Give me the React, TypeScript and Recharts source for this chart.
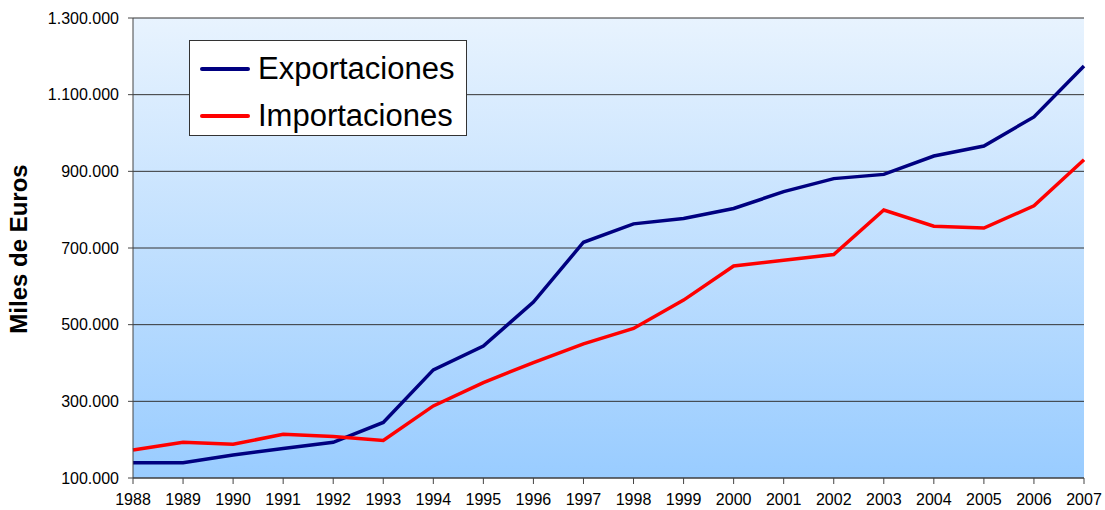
import { CartesianGrid, Label, Legend, Line, LineChart, XAxis, YAxis } from 'recharts'

const years = [
  '1988', '1989', '1990', '1991', '1992', '1993', '1994', '1995', '1996', '1997',
  '1998', '1999', '2000', '2001', '2002', '2003', '2004', '2005', '2006', '2007',
]

const exportaciones = [
  140000, 140000, 160000, 177000, 193000, 245000, 382000, 444000, 559000, 715000,
  763000, 777000, 803000, 847000, 881000, 892000, 940000, 966000, 1042000, 1175000,
]

const importaciones = [
  173000, 193000, 188000, 214000, 208000, 198000, 288000, 349000, 401000, 450000,
  490000, 564000, 653000, 668000, 683000, 799000, 757000, 752000, 810000, 930000,
]

const yTicks = [100000, 300000, 500000, 700000, 900000, 1100000, 1300000]

const series = [
  { key: 'exp', name: 'Exportaciones', color: '#000080' },
  { key: 'imp', name: 'Importaciones', color: '#ff0000' },
]

const data = years.map((year, i) => ({
  year,
  exp: exportaciones[i],
  imp: importaciones[i],
}))

const font = '"Liberation Sans", Arial, Helvetica, sans-serif'

function formatMiles(value: number) {
  return String(value).replace(/\B(?=(\d{3})+(?!\d))/g, '.')
}

function LegendBox() {
  return (
    <div
      style={{
        width: 278,
        height: 96,
        boxSizing: 'border-box',
        background: '#fff',
        border: '1px solid #333',
        padding: '4px 0 0 10px',
        overflow: 'hidden',
        fontFamily: font,
      }}
    >
      {series.map((s) => (
        <div key={s.key} style={{ display: 'flex', alignItems: 'center', height: 47 }}>
          <span style={{ width: 50, height: 4, background: s.color, borderRadius: 2, marginRight: 8 }} />
          <span style={{ fontSize: 31, color: '#000', lineHeight: 1 }}>{s.name}</span>
        </div>
      ))}
    </div>
  )
}

function YLabel(props: any) {
  const vb = props.viewBox || { y: 18, height: 460 }
  const cy = vb.y + vb.height / 2 + 1
  return (
    <text
      x={18}
      y={cy}
      transform={`rotate(-90 18 ${cy})`}
      textAnchor="middle"
      dominantBaseline="central"
      fontFamily={font}
      fontWeight="bold"
      fontSize={24}
      fill="#000"
    >
      Miles de Euros
    </text>
  )
}

export default function App() {
  return (
    <div style={{ position: 'absolute', left: 0, top: 0 }}>
      <LineChart width={1105} height={510} data={data} margin={{ top: 18, right: 21, left: 0, bottom: 0 }}>
        <defs>
          <linearGradient id="plotBg" x1="0" y1="0" x2="0" y2="1">
            <stop offset="0%" stopColor="#e8f3fe" />
            <stop offset="100%" stopColor="#99ccff" />
          </linearGradient>
        </defs>
        <CartesianGrid vertical={false} stroke="#333" fill="url(#plotBg)" fillOpacity={1} />
        <XAxis
          dataKey="year"
          interval={0}
          height={32}
          tick={{ fontSize: 16, fill: '#000', fontFamily: font }}
          tickSize={6}
          tickMargin={10}
          axisLine={{ stroke: '#444' }}
          tickLine={{ stroke: '#444' }}
        />
        <XAxis xAxisId="top" dataKey="year" orientation="top" height={0} tick={false} tickLine={false} axisLine={{ stroke: '#888' }} />
        <YAxis
          width={133}
          domain={[100000, 1300000]}
          ticks={yTicks}
          tickFormatter={formatMiles}
          tick={{ fontSize: 16, fill: '#000', fontFamily: font }}
          tickSize={5}
          tickMargin={9}
          axisLine={{ stroke: '#444' }}
          tickLine={{ stroke: '#444' }}
        >
          <Label content={<YLabel />} />
        </YAxis>
        <YAxis yAxisId="right" orientation="right" width={0} tick={false} tickLine={false} axisLine={{ stroke: '#888' }} />
        <Legend
          layout="vertical"
          align="center"
          verticalAlign="middle"
          content={<LegendBox />}
          wrapperStyle={{ position: 'absolute', left: 189, top: 40, width: 278, height: 96 }}
        />
        {series.map((s) => (
          <Line
            key={s.key}
            type="linear"
            dataKey={s.key}
            name={s.name}
            stroke={s.color}
            strokeWidth={3.5}
            dot={false}
            activeDot={false}
            isAnimationActive={false}
          />
        ))}
      </LineChart>
    </div>
  )
}
